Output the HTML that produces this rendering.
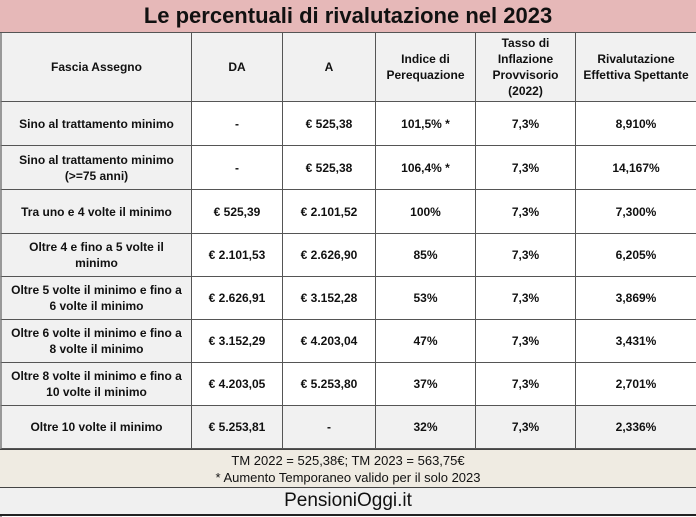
<!DOCTYPE html>
<html><head><meta charset="utf-8"><style>
body{margin:0;width:696px;height:517px;overflow:hidden;background:#fff;font-family:"Liberation Sans",Arial,sans-serif;}
.a{position:absolute;box-sizing:border-box;}
.c{display:flex;align-items:center;justify-content:center;text-align:center;font-weight:bold;font-size:12px;color:#111;line-height:16px;}
</style></head><body>
<div class="a" style="left:0;top:0;width:696px;height:517px;border-left:2px solid #999;"></div>
<div class="a c" style="left:0;top:0;width:696px;height:33px;background:#e6b8b8;font-size:22px;border-bottom:1px solid #555;">Le percentuali di rivalutazione nel 2023</div>
<div id="t"></div>
<div class="a c" style="left:0;top:449px;width:696px;height:39px;background:#efebe2;font-weight:normal;font-size:13px;font-family:'Liberation Sans Narrow','Liberation Sans',sans-serif;border-top:1px solid #444;border-bottom:1px solid #444;flex-direction:column;line-height:17px;"><div>TM 2022 = 525,38€; TM 2023 = 563,75€</div><div>* Aumento Temporaneo valido per il solo 2023</div></div>
<div class="a c" style="left:0;top:488px;width:696px;height:28px;background:#f0f0f0;font-weight:normal;font-size:19px;border-bottom:2px solid #222;">PensioniOggi.it</div>
<script>
var xs=[0,192,283,376,476,576,696];
var ys=[33,102,146,190,234,277,320,363,406,449];
var rows=[
["Fascia Assegno","DA","A","Indice di<br>Perequazione","Tasso di<br>Inflazione<br>Provvisorio<br>(2022)","Rivalutazione<br>Effettiva Spettante"],
["Sino al trattamento minimo","-","€ 525,38","101,5% *","7,3%","8,910%"],
["Sino al trattamento minimo<br>(>=75 anni)","-","€ 525,38","106,4% *","7,3%","14,167%"],
["Tra uno e 4 volte il minimo","€ 525,39","€ 2.101,52","100%","7,3%","7,300%"],
["Oltre 4 e fino a 5 volte il<br>minimo","€ 2.101,53","€ 2.626,90","85%","7,3%","6,205%"],
["Oltre 5 volte il minimo e fino a<br>6 volte il minimo","€ 2.626,91","€ 3.152,28","53%","7,3%","3,869%"],
["Oltre 6 volte il minimo e fino a<br>8 volte il minimo","€ 3.152,29","€ 4.203,04","47%","7,3%","3,431%"],
["Oltre 8 volte il minimo e fino a<br>10 volte il minimo","€ 4.203,05","€ 5.253,80","37%","7,3%","2,701%"],
["Oltre 10 volte il minimo","€ 5.253,81","-","32%","7,3%","2,336%"]];
var h="";
for(var r=0;r<rows.length;r++)for(var c=0;c<6;c++){
var bg=(r==0||c==0||r==8)?"#f1f1f1":"#fff";
h+='<div class="a c" style="left:'+xs[c]+'px;top:'+ys[r]+'px;width:'+(xs[c+1]-xs[c])+'px;height:'+(ys[r+1]-ys[r])+'px;background:'+bg+';border-bottom:1px solid #555;'+(c<5?'border-right:1px solid #555;':'')+(c==0?'border-left:2px solid #999;':'')+'">'+rows[r][c]+'</div>';}
document.getElementById("t").innerHTML=h;
</script>
</body></html>
